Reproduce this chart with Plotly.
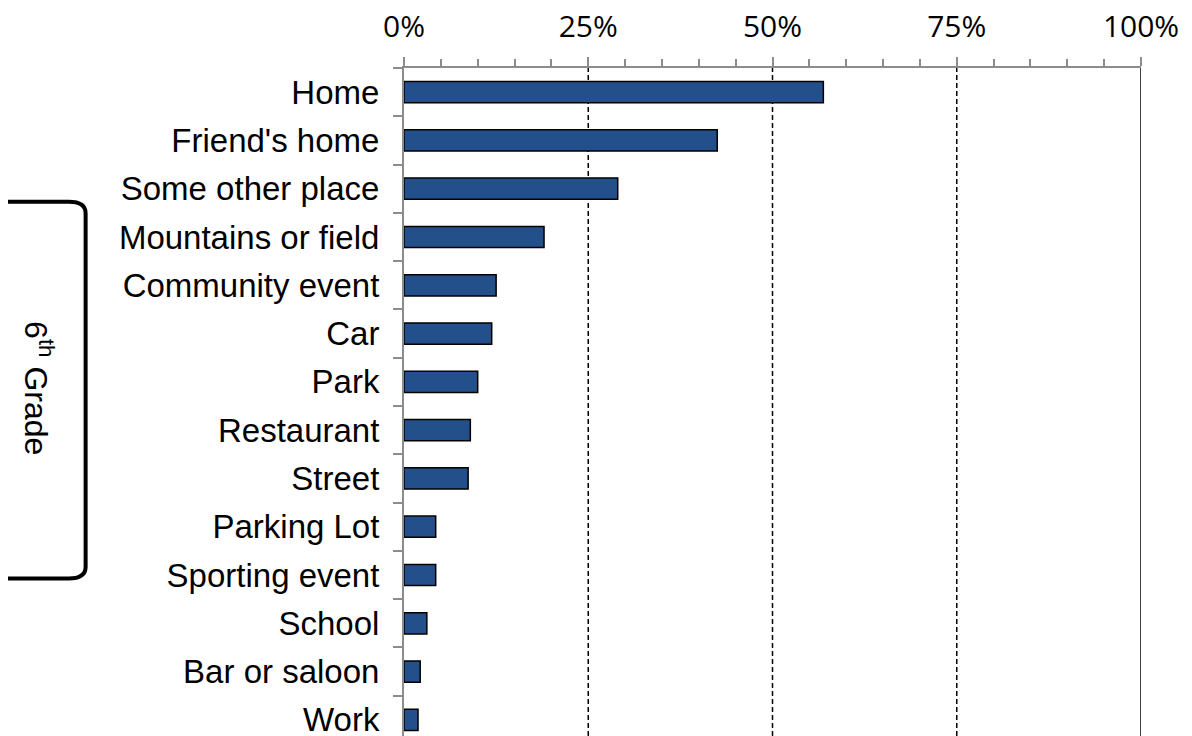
import plotly.graph_objects as go

categories = [
    "Home", "Friend's home", "Some other place", "Mountains or field",
    "Community event", "Car", "Park", "Restaurant", "Street",
    "Parking Lot", "Sporting event", "School", "Bar or saloon", "Work",
]
percent = [56.9, 42.5, 29.0, 19.0, 12.5, 11.9, 10.0, 9.0, 8.7, 4.3, 4.3, 3.1, 2.2, 1.9]

x_ticks = [0, 25, 50, 75, 100]
x_tick_text = ["0%", "25%", "50%", "75%", "100%"]

bar_color = "#23508A"
axis_gray = "#8C8C8C"

fig = go.Figure()
fig.add_trace(
    go.Bar(
        x=percent,
        y=categories,
        orientation="h",
        marker=dict(color=bar_color, line=dict(color="black", width=1.5)),
        hoverinfo="x+y",
    )
)

# dashed reference lines at 25/50/75, solid at 100
for v in x_ticks[1:]:
    fig.add_shape(
        type="line", xref="x", yref="paper", x0=v, x1=v, y0=0, y1=1,
        line=dict(color="black", width=1.5, dash="solid" if v == 100 else "5px,3px"),
        layer="below",
    )

# bracket on the left
fig.add_shape(
    type="path", xref="paper", yref="paper",
    path="M -0.54,0.802 L -0.455,0.802 Q -0.432,0.802 -0.432,0.785 "
         "L -0.432,0.262 Q -0.432,0.245 -0.455,0.245 L -0.54,0.245",
    line=dict(color="black", width=4),
)
fig.add_annotation(
    xref="paper", yref="paper", x=-0.526, y=0.526,
    text="6<sup>th</sup> Grade", textangle=90, showarrow=False,
    font=dict(family="Liberation Sans, Arial", size=32, color="black"),
)

fig.update_layout(
    width=1192, height=736,
    margin=dict(l=396, r=59, t=60, b=0),
    plot_bgcolor="white", paper_bgcolor="white",
    bargap=0.56, showlegend=False,
    xaxis=dict(
        side="top", range=[0, 100], tickvals=x_ticks, ticktext=x_tick_text,
        automargin=False,
        showgrid=False, zeroline=False, showline=True, linecolor=axis_gray, linewidth=2,
        ticks="outside", ticklen=9, tickwidth=2, tickcolor=axis_gray,
        minor=dict(dtick=5, ticks="outside", ticklen=7, tickwidth=1.5, tickcolor=axis_gray, showgrid=False),
        ticklabelstandoff=8,
        tickfont=dict(family="Open Sans", size=30, color="black"),
    ),
    yaxis=dict(
        autorange="reversed", showgrid=False, zeroline=False, automargin=False,
        showline=True, linecolor=axis_gray, linewidth=2,
        ticks="outside", tickson="boundaries", ticklen=9, tickwidth=2, tickcolor=axis_gray,
        ticklabelstandoff=16,
        tickfont=dict(family="Liberation Sans, Arial", size=33, color="black"),
    ),
)

fig.write_html("out.html")
